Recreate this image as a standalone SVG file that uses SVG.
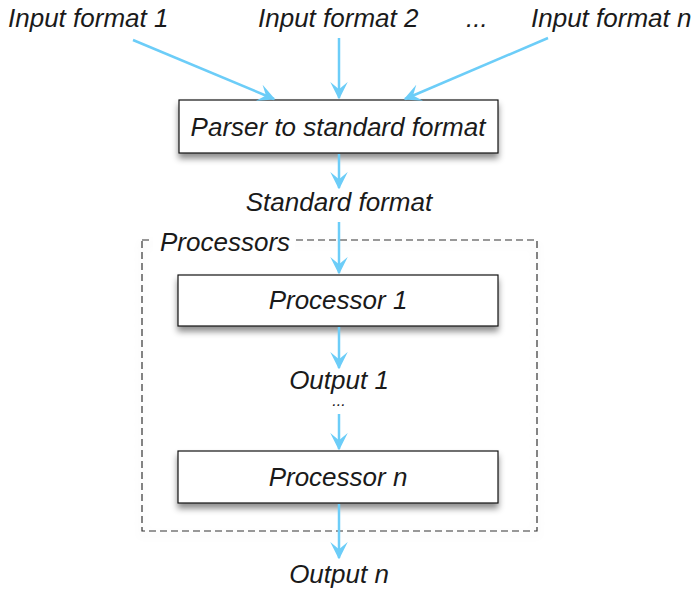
<svg xmlns="http://www.w3.org/2000/svg" width="700" height="589" viewBox="0 0 700 589">
<style>
text{font-family:"Liberation Sans",Arial,sans-serif;font-style:italic;font-size:26px;fill:#1a1a1a;}
.box{fill:#fff;stroke:#111;stroke-width:1.2;filter:url(#sh);}
.c{text-anchor:middle;}
.arr{stroke:#6ccdf8;stroke-width:2.5;fill:none;marker-end:url(#ah);}
</style>
<defs>
<filter id="sh" x="-10%" y="-20%" width="120%" height="160%">
<feDropShadow dx="0" dy="5" stdDeviation="3" flood-color="#000" flood-opacity="0.45"/>
</filter>
<filter id="sh2" x="-10%" y="-10%" width="120%" height="120%">
<feDropShadow dx="0" dy="4" stdDeviation="4" flood-color="#000" flood-opacity="0.12"/>
</filter>
<marker id="ah" viewBox="0 0 12 12" refX="11" refY="6" markerWidth="7" markerHeight="7" orient="auto" markerUnits="strokeWidth">
<path d="M0,0 L12,6 L0,12 L5,6 z" fill="#6ccdf8"/>
</marker>
</defs>
<g id="labels">
<text x="8" y="27">Input format 1</text>
<text x="258" y="27">Input format 2</text>
<text x="466" y="27">...</text>
<text x="531" y="27">Input format n</text>
<text class="c" x="339" y="211">Standard format</text>
<text class="c" x="339" y="389">Output 1</text>
<text class="c" x="339" y="406" style="font-size:16px">...</text>
<text class="c" x="339" y="583">Output n</text>
</g>
<g id="processors">
<rect x="142" y="240" width="395" height="291" fill="none" stroke="#333" stroke-width="1.2" stroke-dasharray="7,4" filter="url(#sh2)"/>
<rect x="153" y="228" width="142" height="26" fill="#fff"/>
<text x="160" y="251">Processors</text>
</g>
<g id="parser">
<rect class="box" x="179" y="100" width="319" height="53"/>
<text class="c" x="338" y="136">Parser to standard format</text>
</g>
<g id="proc1">
<rect class="box" x="178" y="275" width="320" height="51"/>
<text class="c" x="338" y="309">Processor 1</text>
</g>
<g id="procn">
<rect class="box" x="178" y="451" width="320" height="52"/>
<text class="c" x="338" y="486">Processor n</text>
</g>
<g id="connectors">
<line class="arr" x1="133" y1="40" x2="274" y2="99"/>
<line class="arr" x1="339" y1="38" x2="339" y2="98"/>
<line class="arr" x1="548" y1="38" x2="405" y2="99"/>
<line class="arr" x1="339" y1="154" x2="339" y2="188"/>
<line class="arr" x1="339" y1="222" x2="339" y2="273"/>
<line class="arr" x1="339" y1="327" x2="339" y2="368"/>
<line class="arr" x1="339" y1="414" x2="339" y2="449"/>
<line class="arr" x1="339" y1="504" x2="339" y2="558"/>
</g>
</svg>
